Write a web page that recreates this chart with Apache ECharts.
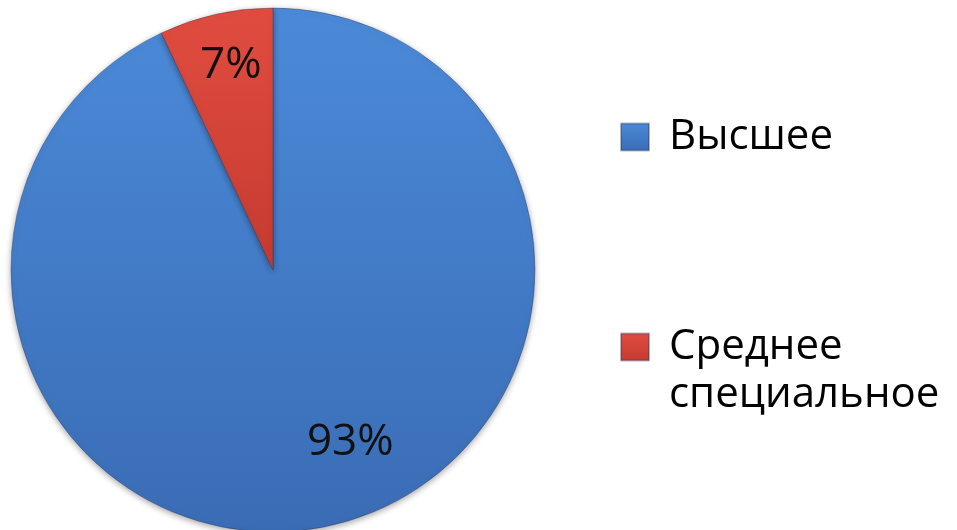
<!DOCTYPE html>
<html>
<head>
<meta charset="utf-8">
<script src="https://cdn.jsdelivr.net/npm/echarts@6/dist/echarts.min.js"></script>
<style>
html,body{margin:0;padding:0;background:#fff;}
#chart{width:957px;height:530px;}
</style>
</head>
<body>
<div id="chart"></div>
<script>
// Data
const categories = ['Высшее', 'Среднее специальное'];
const values = [93, 7];
const labelTexts = ['93%', '7%'];

// Styles
const sliceColors = [
  {top: '#4b8ad8', bottom: '#3a6cb5'},
  {top: '#e24c40', bottom: '#c53a30'}
];
const labelOffsets = [[48, 42], [-13, -74]];
const FONT = '"Open Sans", "Noto Sans", sans-serif';

function grad(c) {
  return {
    type: 'linear', x: 0, y: 0, x2: 0, y2: 1,
    colorStops: [{offset: 0, color: c.top}, {offset: 1, color: c.bottom}]
  };
}

const chart = echarts.init(document.getElementById('chart'), null, {renderer: 'canvas'});

const seriesData = categories.map((name, i) => ({
  name: name,
  value: values[i],
  itemStyle: {color: grad(sliceColors[i])},
  label: {formatter: labelTexts[i], offset: labelOffsets[i]}
}));

const legendText = {
  fontFamily: FONT, fontSize: 42, color: '#000', lineHeight: 48,
  padding: [0, 0, 0, 15]
};

chart.setOption({
  animation: false,
  backgroundColor: '#ffffff',
  legend: [
    {
      data: [categories[0]],
      orient: 'vertical',
      left: 620, top: 113,
      padding: 0,
      itemWidth: 28, itemHeight: 27,
      icon: 'rect',
      textStyle: legendText
    },
    {
      data: [categories[1]],
      orient: 'vertical',
      left: 620, top: 275,
      padding: 0,
      itemWidth: 28, itemHeight: 27,
      icon: 'rect',
      formatter: n => '\n' + n.replace(' ', '\n'),
      textStyle: legendText
    }
  ],
  series: [{
    type: 'pie',
    center: [273, 270],
    radius: [0, 262],
    startAngle: 90,
    clockwise: true,
    avoidLabelOverlap: false,
    itemStyle: {
      borderColor: 'rgba(40,50,80,0.35)',
      borderWidth: 1,
      shadowBlur: 6,
      shadowColor: 'rgba(0,0,0,0.35)',
      shadowOffsetY: 2
    },
    label: {
      show: true,
      position: 'inside',
      fontFamily: FONT,
      fontSize: 44,
      color: '#111'
    },
    labelLine: {show: false},
    emphasis: {disabled: true},
    data: seriesData
  }]
});
</script>
</body>
</html>
